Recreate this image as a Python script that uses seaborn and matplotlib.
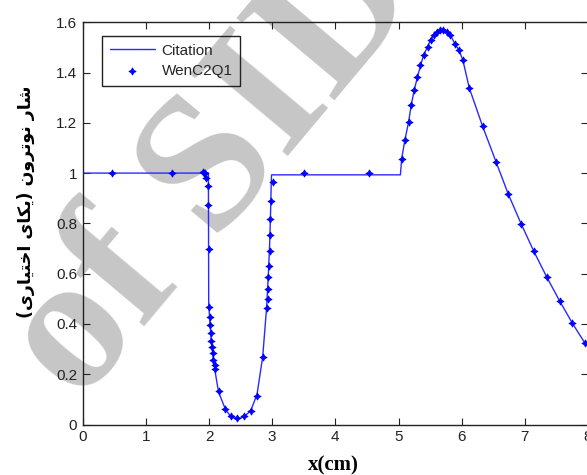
import matplotlib
matplotlib.use("Agg")
import matplotlib.pyplot as plt
import seaborn as sns

# Citation reference solution (continuous line)
citation_x = [0.0, 1.99, 1.995, 2.01, 2.03, 2.05, 2.07, 2.09, 2.15, 2.26, 2.35,
              2.45, 2.55, 2.66, 2.76, 2.85, 2.91, 2.94, 2.96, 2.975, 2.985, 2.99,
              5.03, 5.05, 5.10, 5.16, 5.20, 5.25, 5.30, 5.35, 5.40, 5.46, 5.51,
              5.56, 5.61, 5.66, 5.71, 5.77, 5.82, 5.89, 5.96, 6.02, 6.12, 6.33,
              6.545, 6.74, 6.94, 7.14, 7.35, 7.55, 7.75, 7.95, 8.0]
citation_y = [1.0, 1.0, 0.48, 0.42, 0.35, 0.30, 0.255, 0.22, 0.13, 0.06, 0.03,
              0.022, 0.03, 0.055, 0.12, 0.27, 0.46, 0.60, 0.72, 0.85, 0.96, 0.993,
              0.993, 1.057, 1.13, 1.204, 1.269, 1.332, 1.382, 1.429, 1.471, 1.502, 1.531,
              1.55, 1.563, 1.57, 1.57, 1.563, 1.55, 1.515, 1.488, 1.448, 1.339, 1.187,
              1.044, 0.915, 0.799, 0.69, 0.585, 0.492, 0.404, 0.324, 0.31]

# WenC2Q1 solution (discrete points)
wen_x = [0.46, 1.42, 1.905, 1.925, 1.94, 1.957, 1.978, 1.978, 1.994, 1.994,
         2.01, 2.01, 2.03, 2.03, 2.05, 2.06, 2.07, 2.09, 2.09, 2.15, 2.26, 2.35,
         2.45, 2.55, 2.66, 2.76, 2.85, 2.91, 2.93, 2.93, 2.94, 2.95, 2.96, 2.96,
         2.97, 2.98, 3.005, 3.51, 4.53, 5.05, 5.10, 5.16, 5.195, 5.25, 5.30,
         5.34, 5.40, 5.46, 5.51, 5.56, 5.61, 5.66, 5.71, 5.77, 5.82, 5.89, 5.96,
         6.02, 6.12, 6.33, 6.545, 6.74, 6.94, 7.14, 7.35, 7.55, 7.75, 7.95]
wen_y = [1.0, 1.0, 1.004, 1.0, 0.999, 0.98, 0.948, 0.872, 0.697, 0.466,
         0.429, 0.396, 0.363, 0.333, 0.307, 0.283, 0.258, 0.237, 0.221, 0.132, 0.062, 0.032,
         0.025, 0.032, 0.052, 0.115, 0.267, 0.462, 0.499, 0.539, 0.586, 0.631, 0.69, 0.753,
         0.816, 0.889, 0.966, 1.0, 1.0, 1.057, 1.13, 1.204, 1.269, 1.332, 1.382,
         1.429, 1.471, 1.502, 1.531, 1.55, 1.563, 1.57, 1.57, 1.563, 1.55, 1.515, 1.488,
         1.448, 1.339, 1.187, 1.044, 0.915, 0.799, 0.69, 0.585, 0.492, 0.404, 0.324]

x_ticks = [0, 1, 2, 3, 4, 5, 6, 7, 8]
x_tick_labels = ["0", "1", "2", "3", "4", "5", "6", "7", "8"]
y_ticks = [0, 0.2, 0.4, 0.6, 0.8, 1.0, 1.2, 1.4, 1.6]
y_tick_labels = ["0", "0.2", "0.4", "0.6", "0.8", "1", "1.2", "1.4", "1.6"]

x_label = "x(cm)"
y_label = "شار نوترون (یکای اختیاری)"
series_names = ["Citation", "WenC2Q1"]

# Arabic-script contextual forms: (isolated, final, initial, medial);
# right-joining letters have no initial/medial forms.
FORMS = {
    "ا": ("\uFE8D", "\uFE8E", None, None),
    "ر": ("\uFEAD", "\uFEAE", None, None),
    "و": ("\uFEED", "\uFEEE", None, None),
    "ش": ("\uFEB5", "\uFEB6", "\uFEB7", "\uFEB8"),
    "ن": ("\uFEE5", "\uFEE6", "\uFEE7", "\uFEE8"),
    "ت": ("\uFE95", "\uFE96", "\uFE97", "\uFE98"),
    "خ": ("\uFEA5", "\uFEA6", "\uFEA7", "\uFEA8"),
    "ی": ("\uFBFC", "\uFBFD", "\uFBFE", "\uFBFF"),
    "ک": ("\uFB8E", "\uFB8F", "\uFB90", "\uFB91"),
}
MIRROR = {"(": ")", ")": "("}


def shape_rtl(text):
    """Join letters contextually and return the string in visual order."""
    out = []
    for i, ch in enumerate(text):
        if ch not in FORMS:
            out.append(MIRROR.get(ch, ch))
            continue
        prev = text[i - 1] if i > 0 else ""
        nxt = text[i + 1] if i + 1 < len(text) else ""
        join_prev = prev in FORMS and FORMS[prev][2] is not None
        join_next = nxt in FORMS and FORMS[ch][2] is not None
        iso, fin, ini, med = FORMS[ch]
        if join_prev and join_next:
            out.append(med)
        elif join_prev:
            out.append(fin)
        elif join_next:
            out.append(ini)
        else:
            out.append(iso)
    return "".join(reversed(out))


sns.set_theme(style="ticks")
plt.rcParams["font.family"] = ["Liberation Sans", "DejaVu Sans"]

fig = plt.figure(figsize=(5.87, 4.75), dpi=100)
ax = fig.add_axes([0.1409, 0.1063, 0.8608, 0.8469])
ax.set_facecolor("none")

# background watermark
fig.text(0.368, 0.643, "of SID", fontsize=140, family="Liberation Serif",
         fontweight="bold", color="#c6c6c6", rotation=50, ha="center",
         va="center", rotation_mode="anchor", zorder=-1)

sns.lineplot(x=citation_x, y=citation_y, ax=ax, sort=False, estimator=None,
             color="#2a2aff", linewidth=1.0, label=series_names[0])
sns.scatterplot(x=wen_x, y=wen_y, ax=ax, marker=(4, 1, 0), s=26,
                color="#0000ff", edgecolor="#0000ff", linewidth=0.6,
                label=series_names[1], zorder=3)

ax.set_xlim(0, 8)
ax.set_ylim(0, 1.6)
ax.set_xticks(x_ticks)
ax.set_xticklabels(x_tick_labels)
ax.set_yticks(y_ticks)
ax.set_yticklabels(y_tick_labels)
ax.tick_params(direction="in", top=True, right=True, length=5, width=0.8,
               labelsize=11, colors="#222222", pad=4)
for side in ax.spines.values():
    side.set_visible(True)
    side.set_color("#222222")
    side.set_linewidth(1.0)

ax.set_xlabel(x_label, family="Liberation Serif", fontweight="bold",
              fontsize=15, color="black")
ax.xaxis.set_label_coords(0.496, -0.103)
ax.xaxis.label.set_va("center")

ax.set_ylabel(shape_rtl(y_label), family="DejaVu Sans", fontweight="bold",
              fontsize=12.5, color="black")
ax.yaxis.set_label_coords(-0.112, 0.553)
ax.yaxis.label.set_va("center")

leg = ax.legend(loc="upper left", bbox_to_anchor=(0.038, 0.966),
                borderaxespad=0, fancybox=False, frameon=True,
                edgecolor="#222222", facecolor="none", framealpha=1,
                fontsize=11, handlelength=3.0, handletextpad=0.4,
                borderpad=0.5, labelspacing=0.45)
leg.get_frame().set_linewidth(1.0)

fig.savefig("out.png", dpi=100)
